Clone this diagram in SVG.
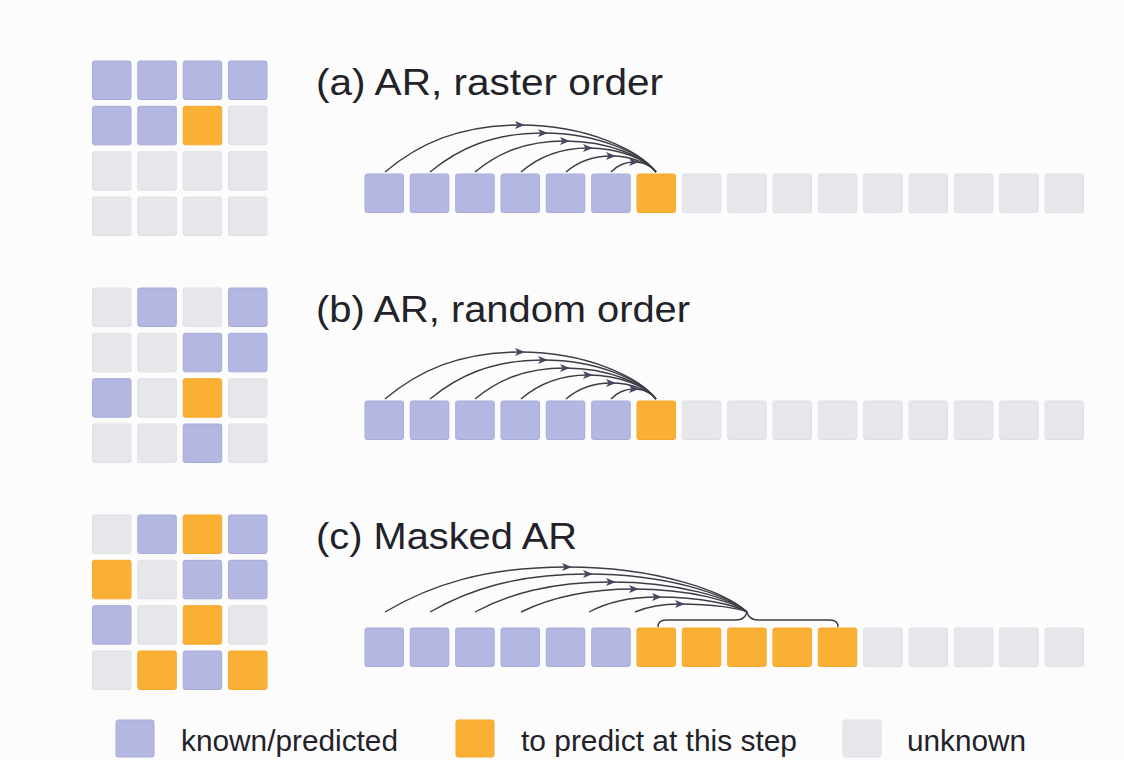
<svg xmlns="http://www.w3.org/2000/svg" xmlns:xlink="http://www.w3.org/1999/xlink" width="1124" height="760" viewBox="0 0 1124 760">
<style>
.b{fill:#b3b7e2;stroke:#a7abd8;stroke-width:1}
.o{fill:#f9b034;stroke:#f5a829;stroke-width:1}
.g{fill:#e6e7eb;stroke:#dfe0e5;stroke-width:1}
.t{font-family:"Liberation Sans",Arial,sans-serif;fill:#222228}
.h{font-size:36px}
.l{font-size:30px}
.arc{fill:none;stroke:#3c3c46;stroke-width:1.4;marker-mid:url(#ah)}
.br{fill:none;stroke:#3c3c46;stroke-width:1.4}
</style>
<defs>
<marker id="ah" markerUnits="userSpaceOnUse" markerWidth="12" markerHeight="10" refX="5" refY="4" orient="auto">
<path d="M0,0 L10,4 L0,8 L2.5,4 z" fill="#4a4560"/>
</marker>
<rect id="cb" class="b" width="38.5" height="38.5" rx="2"/>
<rect id="co" class="o" width="38.5" height="38.5" rx="2"/>
<rect id="cg" class="g" width="38.5" height="38.5" rx="2"/>
</defs>
<rect width="1124" height="760" fill="#fcfcfd"/>

<g id="grid-a">
<use href="#cb" x="92.5" y="61"/><use href="#cb" x="137.8" y="61"/><use href="#cb" x="183.2" y="61"/><use href="#cb" x="228.5" y="61"/>
<use href="#cb" x="92.5" y="106.3"/><use href="#cb" x="137.8" y="106.3"/><use href="#co" x="183.2" y="106.3"/><use href="#cg" x="228.5" y="106.3"/>
<use href="#cg" x="92.5" y="151.7"/><use href="#cg" x="137.8" y="151.7"/><use href="#cg" x="183.2" y="151.7"/><use href="#cg" x="228.5" y="151.7"/>
<use href="#cg" x="92.5" y="197"/><use href="#cg" x="137.8" y="197"/><use href="#cg" x="183.2" y="197"/><use href="#cg" x="228.5" y="197"/>
</g>
<g id="grid-b">
<use href="#cg" x="92.5" y="288"/><use href="#cb" x="137.8" y="288"/><use href="#cg" x="183.2" y="288"/><use href="#cb" x="228.5" y="288"/>
<use href="#cg" x="92.5" y="333.3"/><use href="#cg" x="137.8" y="333.3"/><use href="#cb" x="183.2" y="333.3"/><use href="#cb" x="228.5" y="333.3"/>
<use href="#cb" x="92.5" y="378.7"/><use href="#cg" x="137.8" y="378.7"/><use href="#co" x="183.2" y="378.7"/><use href="#cg" x="228.5" y="378.7"/>
<use href="#cg" x="92.5" y="424"/><use href="#cg" x="137.8" y="424"/><use href="#cb" x="183.2" y="424"/><use href="#cg" x="228.5" y="424"/>
</g>
<g id="grid-c">
<use href="#cg" x="92.5" y="515"/><use href="#cb" x="137.8" y="515"/><use href="#co" x="183.2" y="515"/><use href="#cb" x="228.5" y="515"/>
<use href="#co" x="92.5" y="560.3"/><use href="#cg" x="137.8" y="560.3"/><use href="#cb" x="183.2" y="560.3"/><use href="#cb" x="228.5" y="560.3"/>
<use href="#cb" x="92.5" y="605.7"/><use href="#cg" x="137.8" y="605.7"/><use href="#co" x="183.2" y="605.7"/><use href="#cg" x="228.5" y="605.7"/>
<use href="#cg" x="92.5" y="651"/><use href="#co" x="137.8" y="651"/><use href="#cb" x="183.2" y="651"/><use href="#co" x="228.5" y="651"/>
</g>

<g id="title-a"><text class="t h" x="316" y="95" textLength="347" lengthAdjust="spacingAndGlyphs">(a) AR, raster order</text></g>
<g id="title-b"><text class="t h" x="316" y="322" textLength="374" lengthAdjust="spacingAndGlyphs">(b) AR, random order</text></g>
<g id="title-c"><text class="t h" x="316" y="549" textLength="261" lengthAdjust="spacingAndGlyphs">(c) Masked AR</text></g>

<g id="seq-a">
<use href="#cb" x="365" y="174"/><use href="#cb" x="410.3" y="174"/><use href="#cb" x="455.7" y="174"/><use href="#cb" x="501" y="174"/><use href="#cb" x="546.3" y="174"/><use href="#cb" x="591.7" y="174"/>
<use href="#co" x="637" y="174"/>
<use href="#cg" x="682.3" y="174"/><use href="#cg" x="727.7" y="174"/><use href="#cg" x="773" y="174"/><use href="#cg" x="818.3" y="174"/><use href="#cg" x="863.7" y="174"/><use href="#cg" x="909" y="174"/><use href="#cg" x="954.3" y="174"/><use href="#cg" x="999.7" y="174"/><use href="#cg" x="1045" y="174"/>
</g>
<g id="seq-b">
<use href="#cb" x="365" y="401"/><use href="#cb" x="410.3" y="401"/><use href="#cb" x="455.7" y="401"/><use href="#cb" x="501" y="401"/><use href="#cb" x="546.3" y="401"/><use href="#cb" x="591.7" y="401"/>
<use href="#co" x="637" y="401"/>
<use href="#cg" x="682.3" y="401"/><use href="#cg" x="727.7" y="401"/><use href="#cg" x="773" y="401"/><use href="#cg" x="818.3" y="401"/><use href="#cg" x="863.7" y="401"/><use href="#cg" x="909" y="401"/><use href="#cg" x="954.3" y="401"/><use href="#cg" x="999.7" y="401"/><use href="#cg" x="1045" y="401"/>
</g>
<g id="seq-c">
<use href="#cb" x="365" y="628"/><use href="#cb" x="410.3" y="628"/><use href="#cb" x="455.7" y="628"/><use href="#cb" x="501" y="628"/><use href="#cb" x="546.3" y="628"/><use href="#cb" x="591.7" y="628"/>
<use href="#co" x="637" y="628"/><use href="#co" x="682.3" y="628"/><use href="#co" x="727.7" y="628"/><use href="#co" x="773" y="628"/><use href="#co" x="818.3" y="628"/>
<use href="#cg" x="863.7" y="628"/><use href="#cg" x="909" y="628"/><use href="#cg" x="954.3" y="628"/><use href="#cg" x="999.7" y="628"/><use href="#cg" x="1045" y="628"/>
</g>

<g id="connectors">
<g id="arcs-a">
<path class="arc" d="M385,172 C418.75,143.8 459.25,125 520,125 C588,125 639.7,150.85 656,172"/>
<path class="arc" d="M430,172 C458.25,148.6 492.15,133 543,133 C599.5,133 642.4,154.45 656,172"/>
<path class="arc" d="M475,172 C497.5,153.4 524.5,141 565,141 C610.5,141 645.1,158.05 656,172"/>
<path class="arc" d="M521,172 C537.75,157.6 557.85,148 588,148 C622,148 647.8,161.2 656,172"/>
<path class="arc" d="M566,172 C577.25,162.4 590.75,156 611,156 C633.5,156 650.6,164.8 656,172"/>
<path class="arc" d="M611,172 C616.75,166 623.65,162 634,162 C645,162 653.4,167.5 656,172"/>
</g>
<g id="arcs-b" transform="translate(0,227)">
<path class="arc" d="M385,172 C418.75,143.8 459.25,125 520,125 C588,125 639.7,150.85 656,172"/>
<path class="arc" d="M430,172 C458.25,148.6 492.15,133 543,133 C599.5,133 642.4,154.45 656,172"/>
<path class="arc" d="M475,172 C497.5,153.4 524.5,141 565,141 C610.5,141 645.1,158.05 656,172"/>
<path class="arc" d="M521,172 C537.75,157.6 557.85,148 588,148 C622,148 647.8,161.2 656,172"/>
<path class="arc" d="M566,172 C577.25,162.4 590.75,156 611,156 C633.5,156 650.6,164.8 656,172"/>
<path class="arc" d="M611,172 C616.75,166 623.65,162 634,162 C645,162 653.4,167.5 656,172"/>
</g>
<g id="arcs-c">
<path class="arc" d="M385,612 C430.5,585 485.1,567 567,567 C657,567 725.4,591.75 747,612"/>
<path class="arc" d="M430,612 C469.5,589.2 516.9,574 588,574 C667.5,574 727.9,594.9 747,612"/>
<path class="arc" d="M475,612 C509,594 549.8,582 611,582 C679,582 730.7,598.5 747,612"/>
<path class="arc" d="M521,612 C549.25,598.2 583.15,589 634,589 C690.5,589 733.4,601.65 747,612"/>
<path class="arc" d="M589,612 C606,603 626.4,597 657,597 C702,597 736.2,605.25 747,612"/>
<path class="arc" d="M635,612 C646.25,607.2 659.75,604 680,604 C713.5,604 739,608.4 747,612"/>
<path class="br" d="M658,627 Q658,620 666,620 L736,620 Q745,620 747,612 Q749,620 758,620 L830,620 Q838,620 838,627"/>
</g>
</g>

<g id="legend">
<rect class="b" x="116" y="720" width="38" height="37" rx="2"/>
<text class="t l" x="181" y="751" textLength="217" lengthAdjust="spacingAndGlyphs">known/predicted</text>
<rect class="o" x="456" y="720" width="38" height="37" rx="2"/>
<text class="t l" x="521" y="751" textLength="276" lengthAdjust="spacingAndGlyphs">to predict at this step</text>
<rect class="g" x="843" y="720" width="38" height="37" rx="2"/>
<text class="t l" x="907" y="751" textLength="119" lengthAdjust="spacingAndGlyphs">unknown</text>
</g>
</svg>
